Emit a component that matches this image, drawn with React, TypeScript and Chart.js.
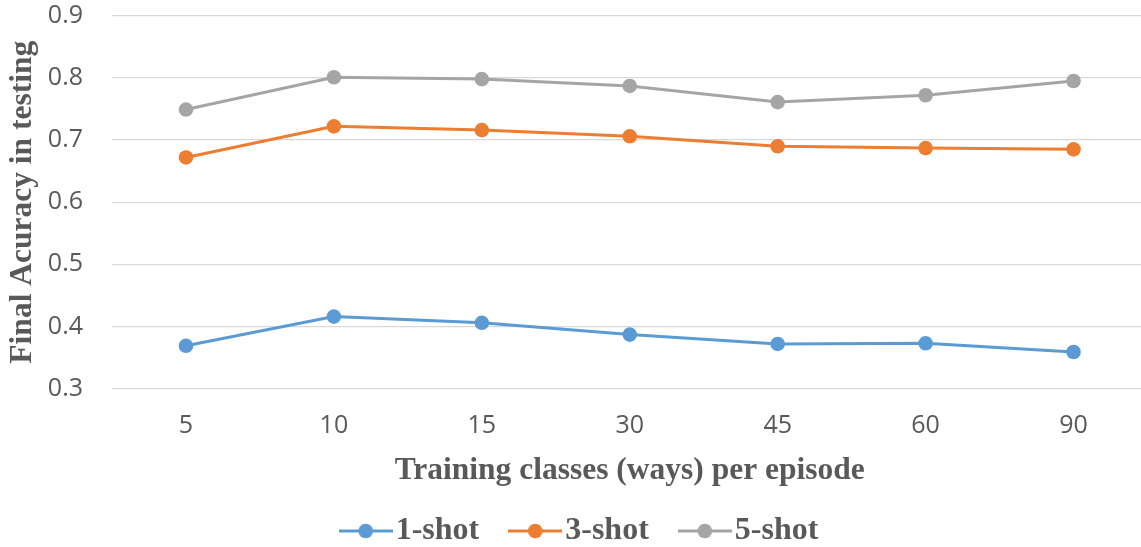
import React, { useEffect, useRef } from "react";
import { Chart, registerables } from "chart.js";

Chart.register(...registerables);

// Training classes (ways) per episode
const ways = ["5", "10", "15", "30", "45", "60", "90"];

// Final accuracy in testing for each shot setting
const oneShot = [0.369, 0.416, 0.406, 0.387, 0.372, 0.373, 0.359];
const threeShot = [0.672, 0.722, 0.716, 0.706, 0.69, 0.687, 0.685];
const fiveShot = [0.749, 0.801, 0.798, 0.787, 0.761, 0.772, 0.795];

const seriesNames = ["1-shot", "3-shot", "5-shot"];
const seriesColors = ["#5B9BD5", "#ED7D31", "#A5A5A5"];

const yMin = 0.3;
const yMax = 0.9;
const yStep = 0.1;

const TEXT = "#595959";
const SERIF = "'Liberation Serif', 'Times New Roman', serif";
const SANS = "'Open Sans', 'DejaVu Sans', sans-serif";

// Small line-with-marker swatch used as the legend symbol
function makeSwatch(color: string): HTMLCanvasElement {
  const c = document.createElement("canvas");
  c.width = 54;
  c.height = 16;
  const g = c.getContext("2d")!;
  g.strokeStyle = color;
  g.lineWidth = 3;
  g.beginPath();
  g.moveTo(0, 8);
  g.lineTo(54, 8);
  g.stroke();
  g.fillStyle = color;
  g.beginPath();
  g.arc(27, 8, 7.3, 0, Math.PI * 2);
  g.fill();
  return c;
}

export default function App() {
  const ref = useRef<HTMLCanvasElement | null>(null);

  useEffect(() => {
    if (!ref.current) return;
    const swatches = seriesColors.map(makeSwatch);
    const values = [oneShot, threeShot, fiveShot];

    const chart = new Chart(ref.current, {
      type: "line",
      data: {
        labels: ways,
        datasets: values.map((v, i) => ({
          label: seriesNames[i],
          data: v,
          borderColor: seriesColors[i],
          backgroundColor: seriesColors[i],
          borderWidth: 3,
          pointRadius: 7.3,
          pointHoverRadius: 7.3,
          pointBorderWidth: 0,
          pointStyle: "circle",
          tension: 0,
          fill: false,
        })),
      },
      options: {
        animation: false,
        responsive: false,
        devicePixelRatio: 1,
        layout: { padding: { top: 15.7, right: 12.5, bottom: 0, left: 22.5 } },
        plugins: {
          tooltip: { enabled: false },
          legend: {
            position: "bottom",
            labels: {
              usePointStyle: true,
              pointStyleWidth: 28,
              padding: 42,
              color: TEXT,
              font: { family: SERIF, size: 32, weight: "bold" },
              generateLabels: (ch: any) => {
                const items = Chart.defaults.plugins.legend.labels.generateLabels(ch);
                return items.map((it: any, i: number) => ({ ...it, pointStyle: swatches[i] }));
              },
            },
          },
        },
        scales: {
          x: {
            type: "category",
            offset: true,
            grid: { display: false, drawTicks: false },
            border: { display: false },
            ticks: { color: TEXT, font: { family: SANS, size: 25 }, padding: 22 },
            title: {
              display: true,
              text: "Training classes (ways) per episode",
              color: TEXT,
              font: { family: SERIF, size: 31.5, weight: "bold" },
              padding: { top: 0, bottom: -16.9 },
            },
            afterFit: (s: any) => {
              s.height = 84.3;
            },
          },
          y: {
            min: yMin,
            max: yMax,
            grid: {
              color: "#D9D9D9",
              lineWidth: 1.3,
              drawTicks: true,
              tickLength: 29,
              tickColor: "rgba(0,0,0,0)",
            },
            border: { display: false },
            ticks: {
              stepSize: yStep,
              color: TEXT,
              font: { family: SANS, size: 25 },
              padding: 0,
              callback: (v: any) => Number(v).toFixed(1),
            },
            title: {
              display: true,
              text: "Final Acuracy in testing",
              color: TEXT,
              font: { family: SERIF, size: 31.5, weight: "bold" },
              padding: { top: -18.8, bottom: 0 },
            },
            afterFit: (s: any) => {
              s.width = 89.5;
            },
          },
        },
      },
    });
    return () => chart.destroy();
  }, []);

  return (
    <div style={{ position: "fixed", left: 0, top: 0, right: 0, bottom: 0, overflow: "hidden", background: "#fff" }}>
      <canvas ref={ref} width={1160} height={557} style={{ display: "block" }} />
    </div>
  );
}
